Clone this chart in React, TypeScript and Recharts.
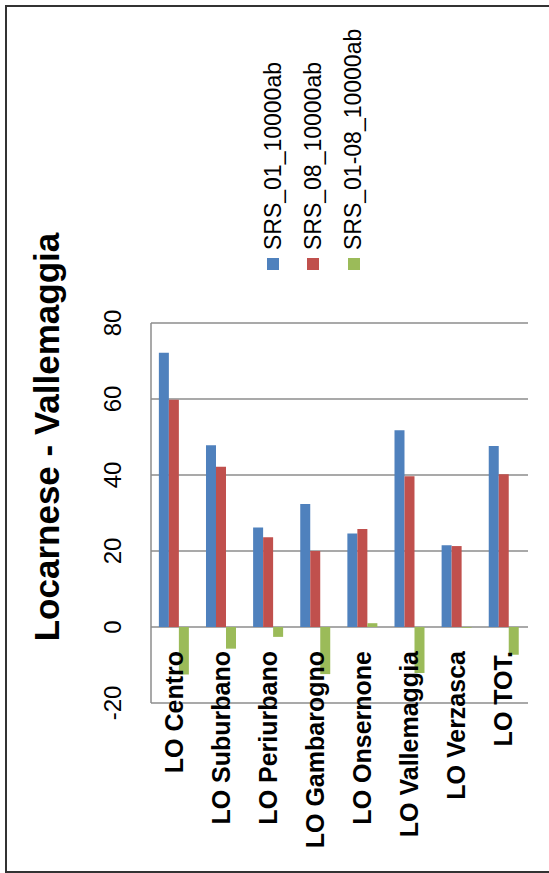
import React from 'react';
import { BarChart, Bar, XAxis, YAxis, CartesianGrid } from 'recharts';

const categories = ['LO Centro', 'LO Suburbano', 'LO Periurbano', 'LO Gambarogno', 'LO Onsernone', 'LO Vallemaggia', 'LO Verzasca', 'LO TOT.'];
const srs01 = [72.2, 47.8, 26.2, 32.4, 24.6, 51.8, 21.5, 47.6];
const srs08 = [59.8, 42.2, 23.6, 20.0, 25.8, 39.7, 21.3, 40.2];
const srsDiff = [-12.5, -5.7, -2.6, -12.4, 1.0, -12.1, -0.2, -7.3];
const valueTicks = [-20, 0, 20, 40, 60, 80];
const seriesNames = ['SRS_01_10000ab', 'SRS_08_10000ab', 'SRS_01-08_10000ab'];
const seriesKeys = ['s01', 's08', 'diff'];
const seriesColors = ['#4F81BD', '#C0504D', '#9BBB59'];
const title = 'Locarnese - Vallemaggia';

const data = categories.map((c, i) => ({ name: c, s01: srs01[i], s08: srs08[i], diff: srsDiff[i] }));

const FONT = '"Liberation Sans", Arial, Helvetica, sans-serif';
const W = 873;
const H = 549;

const CategoryTick = (props: any) => {
  const { x, y, payload } = props;
  return (
    <text x={x + 52} y={y} dy={8} textAnchor="end" fontFamily={FONT} fontSize={25} fontWeight="bold" fill="#000">
      {payload.value}
    </text>
  );
};

export default function App() {
  return (
    <div style={{ position: 'fixed', left: 0, top: 0, width: 549, height: 873, overflow: 'hidden', background: '#fff' }}>
      <div
        style={{
          position: 'absolute',
          left: 0,
          top: 0,
          width: W,
          height: H,
          transformOrigin: '0 0',
          transform: `translateY(${W}px) rotate(-90deg)`,
          background: '#fff',
        }}
      >
        <div style={{ position: 'absolute', left: 0, top: 5, width: 868, height: 600, border: '2px solid #333', boxSizing: 'border-box' }} />
        <svg style={{ position: 'absolute', left: 0, top: 0 }} width={W} height={H}>
          <text x={436} y={59} textAnchor="middle" fontFamily={FONT} fontSize={35} fontWeight="bold" fill="#000">
            {title}
          </text>
        </svg>
        <div style={{ position: 'absolute', left: 0, top: 0 }}>
          <BarChart
            width={W}
            height={H}
            data={data}
            layout="vertical"
            margin={{ top: 111, bottom: 21, left: 110, right: 323 }}
            barCategoryGap="16.7%"
            barGap={0}
          >
            <CartesianGrid horizontal={false} vertical={true} stroke="#8c8c8c" strokeWidth={1.5} />
            <XAxis
              type="number"
              orientation="top"
              domain={[-20, 80]}
              ticks={valueTicks}
              height={40}
              tickLine={false}
              tickSize={0}
              tickMargin={30}
              axisLine={{ stroke: '#8c8c8c', strokeWidth: 1.5 }}
              tick={{ fontFamily: FONT, fontSize: 24, fill: '#000' }}
              interval={0}
            />
            <YAxis type="category" dataKey="name" width={60} tickLine={false} tickSize={0} tickMargin={0} axisLine={false} tick={<CategoryTick />} interval={0} />
            {seriesKeys.map((k, i) => (
              <Bar key={k} dataKey={k} name={seriesNames[i]} fill={seriesColors[i]} isAnimationActive={false} />
            ))}
          </BarChart>
        </div>
        <div style={{ position: 'absolute', left: 603, top: 252.8, fontFamily: FONT, fontSize: 23, color: '#000' }}>
          {seriesNames.map((n, i) => (
            <div key={n} style={{ display: 'flex', alignItems: 'center', height: 40.3, lineHeight: '40.3px', whiteSpace: 'nowrap' }}>
              <span style={{ display: 'inline-block', width: 12, height: 12, background: seriesColors[i], marginRight: 8 }} />
              <span>{n}</span>
            </div>
          ))}
        </div>
      </div>
    </div>
  );
}
